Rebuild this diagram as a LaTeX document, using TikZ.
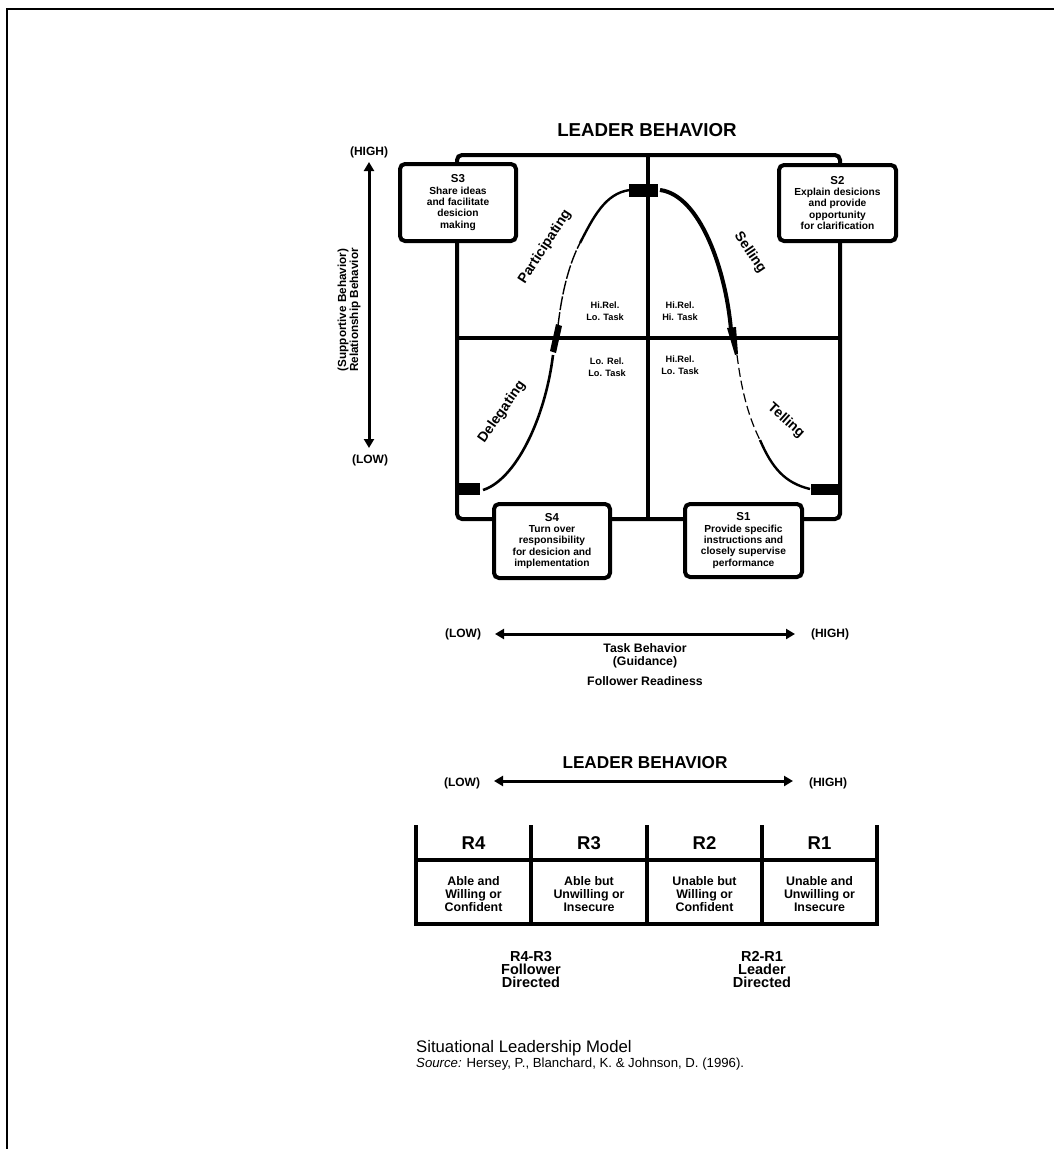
\documentclass[tikz,border=0pt]{standalone}
\usepackage{fontspec}
\setmainfont{Liberation Sans}
\usetikzlibrary{arrows.meta}
\newcommand{\fsz}[2]{\fontsize{#1pt}{#2pt}\selectfont}
\begin{document}
\begin{tikzpicture}[x=1pt,y=-1pt,
  frameline/.style={line width=4pt},
  sbox/.style={draw, line width=4pt, fill=white, rounded corners=5pt, align=center, inner sep=0pt, font=\fsz{10.2}{11.4}\bfseries},
  qlabel/.style={align=center, inner sep=0pt, font=\fsz{9.2}{12}\bfseries},
  slabel/.style={inner sep=0pt, font=\fsz{14}{16}\bfseries},
  axlabel/.style={inner sep=0pt, font=\fsz{12}{14}\bfseries},
  axarrow/.style={line width=3pt, {Triangle[width=10pt,length=9pt]}-{Triangle[width=10pt,length=9pt]}},
  tline/.style={line width=4pt},
  cellt/.style={align=center, inner sep=0pt, font=\fsz{12.4}{12.6}\bfseries},
  rhead/.style={inner sep=0pt, font=\fsz{18.5}{20}\bfseries},
]
\useasboundingbox (0,0) rectangle (1054,1149);
% page border
\draw[line width=2pt] (7,1149) -- (7,9) -- (1054,9);

% ---------- upper diagram ----------
\node[inner sep=0pt, font=\fsz{18.7}{20}\bfseries] (title1) at (647,130) {LEADER BEHAVIOR};

\draw[frameline, rounded corners=5pt] (457,155) rectangle (840,519);
\draw[frameline] (648,155) -- (648,519);
\draw[frameline] (457,338) -- (840,338);

% curve
\draw[line width=2.6pt] (483,490) .. controls (515,480) and (545,420) .. (553,355);
\fill (556,324) -- (562,326) -- (556,353) -- (550,351) -- cycle;
\draw[line width=1.4pt, dash pattern=on 14pt off 2pt] (558,326) .. controls (562,290) and (570,262) .. (580,243);
\draw[line width=2.4pt] (580,243) .. controls (593,218) and (605,193) .. (630,190);
\fill (629,184) rectangle (658,197);
\draw[line width=4pt] (660,190) .. controls (700,195) and (726,270) .. (731,330);
\fill (727,328) -- (736,327) -- (738,354) -- (735,355) -- cycle;
\draw[line width=1.2pt, dash pattern=on 9pt off 4pt] (737,355) .. controls (742,395) and (750,420) .. (760,440);
\draw[line width=2.4pt] (760,440) .. controls (772,468) and (785,483) .. (810,489);
\fill (811,484) rectangle (838,495);
\fill (457,483) rectangle (480,495);

% style boxes
\node[sbox, minimum width=116pt, minimum height=77pt] (s3) at (458,202.5)
  {{\fsz{11.5}{12}S3}\\Share ideas\\and facilitate\\desicion\\making};
\node[sbox, minimum width=117pt, minimum height=76pt] (s2) at (837.5,203)
  {{\fsz{11.5}{12}S2}\\Explain desicions\\and provide\\opportunity\\for clarification};
\node[sbox, minimum width=116pt, minimum height=74pt] (s4) at (552,541)
  {{\fsz{11.5}{12}S4}\\Turn over\\responsibility\\for desicion and\\implementation};
\node[sbox, minimum width=117pt, minimum height=73pt] (s1) at (743.5,540.5)
  {{\fsz{11.5}{12}S1}\\Provide specific\\instructions and\\closely supervise\\performance};

% quadrant labels
\node[qlabel] (q1) at (605,311) {Hi.Rel.\\Lo. Task};
\node[qlabel] (q2) at (680,311) {Hi.Rel.\\Hi. Task};
\node[qlabel] (q3) at (607,367) {Lo. Rel.\\Lo. Task};
\node[qlabel] (q4) at (680,365) {Hi.Rel.\\Lo. Task};

% style names along curve
\node[slabel, rotate=57] (lpart) at (545,247) {Participating};
\node[slabel, rotate=-56] (lsell) at (750,253) {Selling};
\node[slabel, rotate=55] (ldel) at (502,412) {Delegating};
\node[slabel, rotate=-42] (ltell) at (786,421) {Telling};

% vertical axis
\node[axlabel] (vhigh) at (369,152) {(HIGH)};
\node[axlabel] (vlow) at (370,460) {(LOW)};
\coordinate (vtop) at (369,162);
\coordinate (vbot) at (369,448);
\draw[axarrow] (vtop) -- (vbot);
\node[align=center, inner sep=0pt, rotate=90, font=\fsz{11.7}{12}\bfseries] (vtext) at (349,310)
  {(Supportive Behavior)\\Relationship Behavior};

% horizontal task axis
\node[axlabel] (hlow) at (463,634) {(LOW)};
\node[axlabel] (hhigh) at (830,634) {(HIGH)};
\coordinate (hleft) at (495,634);
\coordinate (hright) at (795,634);
\draw[axarrow] (hleft) -- (hright);
\node[align=center, inner sep=0pt, font=\fsz{12.3}{13}\bfseries] (task) at (645,655.5) {Task Behavior\\(Guidance)};
\node[inner sep=0pt, font=\fsz{12.3}{13}\bfseries] (fread) at (645,681) {Follower Readiness};

% ---------- lower diagram ----------
\node[inner sep=0pt, font=\fsz{17.2}{19}\bfseries] (title2) at (645,763) {LEADER BEHAVIOR};
\node[axlabel] (blow) at (462,783) {(LOW)};
\node[axlabel] (bhigh) at (828,783) {(HIGH)};
\coordinate (bleft) at (494,781);
\coordinate (bright) at (793,781);
\draw[axarrow] (bleft) -- (bright);

\draw[tline] (416,825) -- (416,924) -- (877,924) -- (877,825);
\draw[tline] (416,860) -- (877,860);
\foreach \xx in {531,647,762} \draw[tline] (\xx,825) -- (\xx,924);

\node[rhead] (r4) at (473.5,843) {R4};
\node[rhead] (r3) at (589,843) {R3};
\node[rhead] (r2) at (704.5,843) {R2};
\node[rhead] (r1) at (819.5,843) {R1};

\node[cellt] (c4) at (473.5,894) {Able and\\Willing or\\Confident};
\node[cellt] (c3) at (589,894) {Able but\\Unwilling or\\Insecure};
\node[cellt] (c2) at (704.5,894) {Unable but\\Willing or\\Confident};
\node[cellt] (c1) at (819.5,894) {Unable and\\Unwilling or\\Insecure};

\node[align=center, inner sep=0pt, font=\fsz{14.5}{12.8}\bfseries] (fdir) at (531,969.5) {R4-R3\\Follower\\Directed};
\node[align=center, inner sep=0pt, font=\fsz{14.5}{12.8}\bfseries] (ldir) at (762,969.5) {R2-R1\\Leader\\Directed};

% source
\node[anchor=base west, inner sep=0pt, font=\fsz{16.7}{18}] (src1) at (416,1052) {Situational Leadership Model};
\node[anchor=base west, inner sep=0pt, font=\fsz{13.2}{15}] (src2) at (416,1067) {\textit{Source:} Hersey, P., Blanchard, K. \& Johnson, D. (1996).};
\end{tikzpicture}
\end{document}
